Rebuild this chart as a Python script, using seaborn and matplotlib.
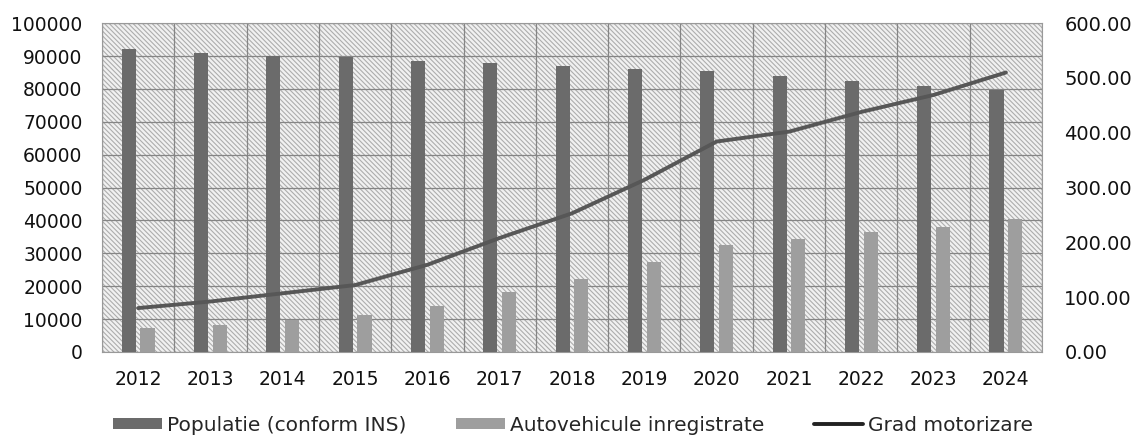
import numpy as np
import pandas as pd
import matplotlib
matplotlib.use("Agg")
import matplotlib.pyplot as plt
from matplotlib.patches import Rectangle, Patch
from matplotlib.lines import Line2D
from matplotlib.ticker import FixedLocator, FuncFormatter
import seaborn as sns

years = ["2012", "2013", "2014", "2015", "2016", "2017", "2018",
         "2019", "2020", "2021", "2022", "2023", "2024"]
populatie = [92000, 91000, 90000, 89600, 88600, 87800, 87100,
             86100, 85500, 83900, 82500, 81000, 79800]
autovehicule = [7300, 8200, 9700, 11200, 14000, 18200, 22300,
                27400, 32400, 34400, 36500, 38100, 40500]
grad = [80, 92, 107, 122, 159, 208, 253, 314, 384, 402, 438, 469, 510]

sns.set_theme(style="white")
plt.rcParams["font.family"] = ["DejaVu Sans"]
plt.rcParams["hatch.color"] = "#adadad"
plt.rcParams["hatch.linewidth"] = 0.8

bars = pd.DataFrame({
    "an": years * 2,
    "valoare": populatie + autovehicule,
    "serie": ["Populatie (conform INS)"] * len(years) + ["Autovehicule inregistrate"] * len(years),
})
line_df = pd.DataFrame({"pos": np.arange(len(years)), "grad": grad})

fig = plt.figure(figsize=(11.37, 4.46), dpi=100)
ax = fig.add_axes([0.0897, 0.211, 0.8268, 0.737])

# hatched background like the scanned excel chart
ax.set_facecolor("#f1f1f1")
ax.add_patch(Rectangle((0, 0), 1, 1, transform=ax.transAxes, facecolor="none",
                       edgecolor="#adadad", hatch="\\" * 7, linewidth=0, zorder=0))

sns.barplot(data=bars, x="an", y="valoare", hue="serie", order=years,
            palette=["#6b6b6b", "#9e9e9e"], width=0.52, gap=0.25,
            saturation=1, legend=False, linewidth=0, edgecolor="none",
            ax=ax, zorder=3)

ax.set_xlim(-0.5, len(years) - 0.5)
ax.set_ylim(0, 100000)
ax.set_yticks(np.arange(0, 100001, 10000))
ax.yaxis.set_major_formatter(FuncFormatter(lambda v, p: f"{int(v)}"))
ax.set_xlabel("")
ax.set_ylabel("")
ax.grid(axis="y", color="#858585", linewidth=0.9, zorder=1)
ax.xaxis.set_minor_locator(FixedLocator(np.arange(-0.5, len(years), 1)))
ax.grid(axis="x", which="minor", color="#858585", linewidth=0.9, zorder=1)
ax.tick_params(axis="x", which="major", length=0, labelsize=13.5, pad=13, colors="#111111")
ax.tick_params(axis="x", which="minor", length=5, color="#888888", direction="out")
ax.tick_params(axis="y", length=0, labelsize=13.5, pad=14, colors="#111111")
ax.set_axisbelow(True)
for s in ax.spines.values():
    s.set_color("#999999")
    s.set_linewidth(0.8)

ax2 = ax.twinx()
sns.lineplot(data=line_df, x="pos", y="grad", color="#575757", linewidth=2.8, ax=ax2)
ax2.set_ylim(0, 600)
ax2.set_yticks(np.arange(0, 601, 100))
ax2.yaxis.set_major_formatter(FuncFormatter(lambda v, p: f"{v:.2f}"))
ax2.tick_params(axis="y", length=0, labelsize=14, pad=16, colors="#111111")
ax2.set_ylabel("")
ax2.set_xlabel("")
ax2.grid(False)
for s in ax2.spines.values():
    s.set_visible(False)
ax.set_xlim(-0.5, len(years) - 0.5)

handles = [Patch(facecolor="#6b6b6b", edgecolor="none"),
           Patch(facecolor="#9e9e9e", edgecolor="none"),
           Line2D([0], [0], color="#222222", linewidth=2.8)]
labels = ["Populatie (conform INS)", "Autovehicule inregistrate", "Grad motorizare"]
fig.legend(handles, labels, loc="lower center", bbox_to_anchor=(0.504, -0.015), ncol=3,
           frameon=False, fontsize=14.5, handlelength=2.4, handleheight=0.45,
           handletextpad=0.25, columnspacing=2.5)

fig.savefig("out.png", dpi=100)
